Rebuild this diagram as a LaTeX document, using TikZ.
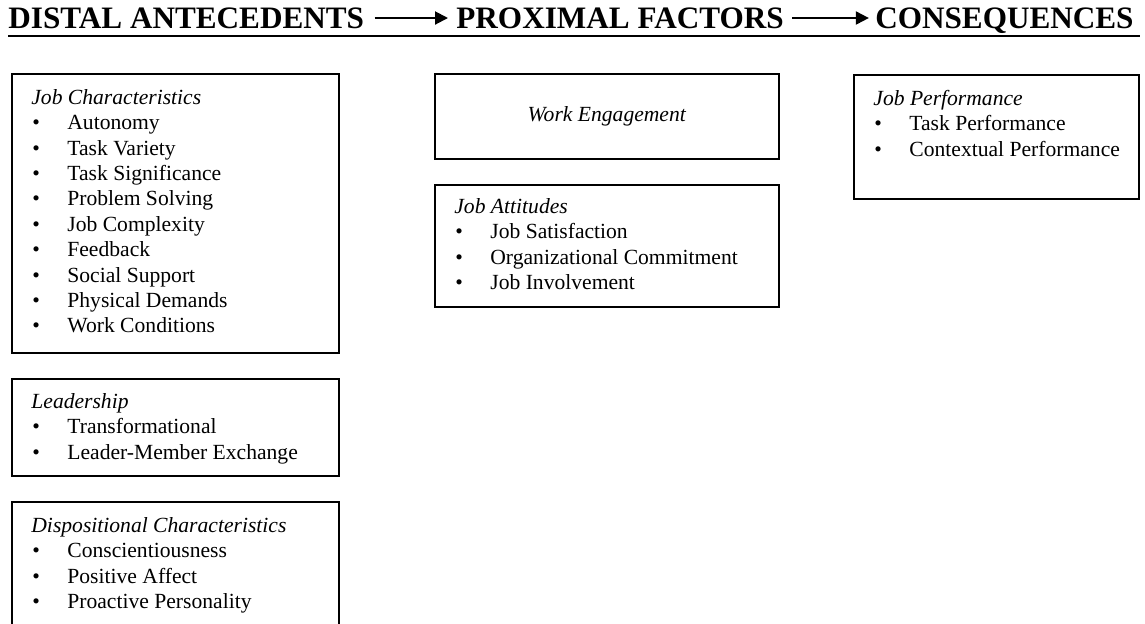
\documentclass[tikz,border=0pt]{standalone}
\usepackage{fontspec}
\setmainfont{Liberation Serif}
\usetikzlibrary{arrows.meta,positioning}

\newcommand{\itm}[1]{\\\hspace*{0.5pt}\makebox[17.5pt][l]{\textbullet}#1}

\begin{document}
\begin{tikzpicture}[x=0.5pt,y=-0.5pt,
  head/.style={font=\fontsize{15.6pt}{18pt}\selectfont\bfseries,inner sep=0pt,text height=10pt,text depth=0pt},
  flow/.style={line width=1pt,-{Triangle[length=6.5pt,width=6.5pt]}},
  box/.style={draw,line width=1pt,inner sep=0pt,outer sep=0pt,anchor=north west,font=\fontsize{10.8pt}{12.65pt}\selectfont},
  list/.style={align=left,inner sep=0pt,font=\fontsize{10.8pt}{12.7pt}\selectfont}]

\useasboundingbox (0,0) rectangle (1145,623);
\clip (0,0) rectangle (1145,623);

% headings
\node[head,anchor=base west] (distal) at (8,28) {DISTAL ANTECEDENTS};
\node[head,anchor=base west] (proximal) at (456,28) {PROXIMAL FACTORS};
\node[head,anchor=base east] (conseq) at (1134,28) {CONSEQUENCES};
\draw[flow] ([xshift=5pt]distal.east) -- ([xshift=-4pt]proximal.west);
\draw[flow] ([xshift=4pt]proximal.east) -- ([xshift=-3pt]conseq.west);
\draw[line width=1pt] (8,36) -- (1140,36);

% distal antecedents
\node[box,minimum width=163.5pt,minimum height=139.5pt] (jobchar) at (12,74) {};
\node[list,below right=6.1pt and 9.5pt of jobchar.north west] (jobcharlist) {\strut\textit{Job Characteristics}
  \itm{Autonomy}\itm{Task Variety}\itm{Task Significance}\itm{Problem Solving}\itm{Job Complexity}
  \itm{Feedback}\itm{Social Support}\itm{Physical Demands}\itm{Work Conditions}};

\node[box,minimum width=163.5pt,minimum height=48.5pt,below=13pt of jobchar] (lead) {};
\node[list,below right=5.6pt and 9.5pt of lead.north west] (leadlist) {\strut\textit{Leadership}
  \itm{Transformational}\itm{Leader-Member Exchange}};

\node[box,minimum width=163.5pt,minimum height=69pt,below=13pt of lead] (dispo) {};
\node[list,below right=6.1pt and 9.5pt of dispo.north west] (dispolist) {\strut\textit{Dispositional Characteristics}
  \itm{Conscientiousness}\itm{Positive Affect}\itm{Proactive Personality}};

% proximal factors
\node[box,minimum width=172pt,minimum height=42.5pt] (engage) at (435,74) {\textit{Work Engagement}};

\node[box,minimum width=172pt,minimum height=61pt,below=13pt of engage] (attit) {};
\node[list,below right=5.1pt and 9.5pt of attit.north west] (attitlist) {\strut\textit{Job Attitudes}
  \itm{Job Satisfaction}\itm{Organizational Commitment}\itm{Job Involvement}};

% consequences
\node[box,minimum width=142.5pt,minimum height=62pt] (perf) at (854,75) {};
\node[list,below right=6.1pt and 9.5pt of perf.north west] (perflist) {\strut\textit{Job Performance}
  \itm{Task Performance}\itm{Contextual Performance}};

\end{tikzpicture}
\end{document}
